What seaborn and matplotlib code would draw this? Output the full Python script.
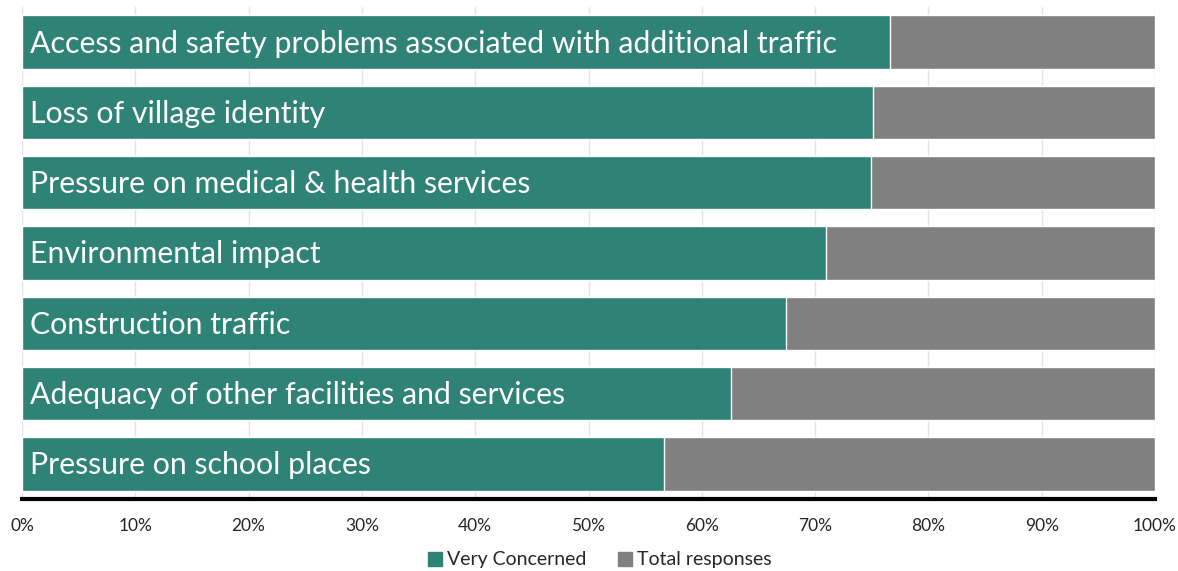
import matplotlib
matplotlib.use("Agg")
import matplotlib.pyplot as plt
import seaborn as sns
import pandas as pd
from matplotlib.patches import Patch
from matplotlib.ticker import PercentFormatter

# Concerns about the development, share of respondents who were very concerned
concerns = [
    "Access and safety problems associated with additional traffic",
    "Loss of village identity",
    "Pressure on medical & health services",
    "Environmental impact",
    "Construction traffic",
    "Adequacy of other facilities and services",
    "Pressure on school places",
]
very_concerned = [76.6, 75.1, 74.9, 71.0, 67.4, 62.6, 56.7]
total_responses = [100, 100, 100, 100, 100, 100, 100]
x_ticks = [0, 10, 20, 30, 40, 50, 60, 70, 80, 90, 100]

teal = "#2F8276"
grey = "#808080"

df = pd.DataFrame({"concern": concerns,
                   "very": very_concerned,
                   "total": total_responses})

sns.set_theme(style="white")
plt.rcParams["font.family"] = ["Lato", "DejaVu Sans"]

fig = plt.figure(figsize=(11.78, 5.71), dpi=100)
ax = fig.add_axes([22 / 1178, 1 - 499 / 571, (1155 - 22) / 1178, (499 - 7) / 571])

# Light vertical gridlines behind the bars
for t in x_ticks:
    ax.axvline(t, color="#E4E4E4", lw=1, zorder=0)

sns.barplot(data=df, y="concern", x="total", orient="h", color=grey,
            width=0.76, saturation=1, ax=ax, zorder=2)
sns.barplot(data=df, y="concern", x="very", orient="h", color=teal,
            width=0.76, saturation=1, ax=ax, zorder=3)

for i, name in enumerate(concerns):
    ax.text(0.75, i + 0.02, name, color="white", fontsize=21.8, va="center",
            ha="left", zorder=4)

ax.set_xlim(0, 100)
ax.set_ylim(6.5, -0.5)
ax.set_xticks(x_ticks)
ax.xaxis.set_major_formatter(PercentFormatter(decimals=0))
ax.set_yticks([])
ax.set_xlabel("")
ax.set_ylabel("")
ax.tick_params(axis="x", length=0, pad=14, labelsize=12.5, colors="#262626")
for side in ["top", "left", "right"]:
    ax.spines[side].set_visible(False)
ax.spines["bottom"].set_color("black")
ax.spines["bottom"].set_linewidth(3)
ax.spines["bottom"].set_zorder(5)

handles = [Patch(color=teal, label="Very Concerned"),
           Patch(color=grey, label="Total responses")]
fig.legend(handles=handles, loc="center", bbox_to_anchor=(600 / 1178, 1 - 560 / 571),
           ncol=2, frameon=False, fontsize=14, handlelength=0.7, handleheight=0.7,
           handletextpad=0.3, columnspacing=1.6, labelcolor="#262626")

fig.savefig("out.png", dpi=100)
